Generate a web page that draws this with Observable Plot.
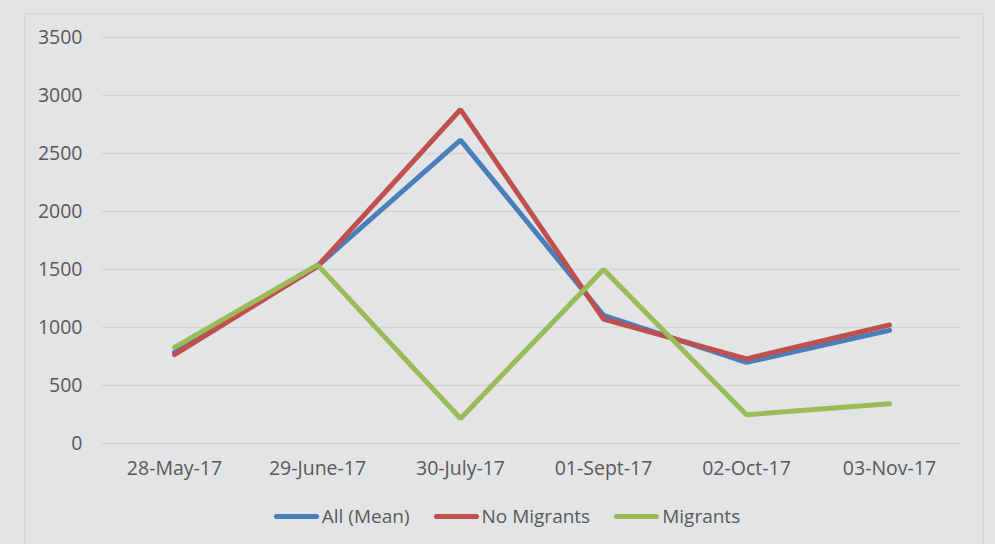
<!DOCTYPE html>
<html>
<head>
<meta charset="utf-8">
<script src="https://cdn.jsdelivr.net/npm/d3@7"></script>
<script src="https://cdn.jsdelivr.net/npm/@observablehq/plot@0.6"></script>
<style>
  html, body { margin: 0; padding: 0; background: #e3e4e6; width: 995px; height: 544px; overflow: hidden; }
  #frame { position: absolute; left: 24px; top: 13px; width: 960px; height: 560px; border: 1.5px solid #d5d6d8; box-sizing: border-box; }
  #chart { position: absolute; left: 0; top: 0; }
  #legend { position: absolute; left: 0; top: 503px; width: 1014px; display: flex; justify-content: center; gap: 24px;
    font-family: "Open Sans", "Liberation Sans", sans-serif; font-size: 19px; color: #595959; }
  .item { display: flex; align-items: center; }
  .sw { width: 45px; height: 5px; border-radius: 3px; margin-right: 3px; }
</style>
</head>
<body>
<div id="frame"></div>
<div id="chart"></div>
<div id="legend"></div>
<script>
const dates = ["28-May-17", "29-June-17", "30-July-17", "01-Sept-17", "02-Oct-17", "03-Nov-17"];
const seriesNames = ["All (Mean)", "No Migrants", "Migrants"];
const seriesColors = ["#4a7ebb", "#c0504d", "#9bbb59"];
const allMean = [785, 1530, 2615, 1105, 700, 975];
const noMigrants = [767, 1528, 2879, 1072, 730, 1022];
const migrants = [828, 1540, 216, 1500, 248, 342];
const yTicks = [0, 500, 1000, 1500, 2000, 2500, 3000, 3500];

const seriesValues = [allMean, noMigrants, migrants];
const data = [];
seriesNames.forEach((s, i) => dates.forEach((d, j) => data.push({series: s, date: d, value: seriesValues[i][j]})));

const chart = Plot.plot({
  width: 995,
  height: 490,
  marginLeft: 102,
  marginRight: 35,
  marginTop: 37,
  marginBottom: 47,
  style: { background: "transparent", fontFamily: "'Open Sans', 'Liberation Sans', sans-serif", fontSize: "19.5px", color: "#595959" },
  x: { type: "point", domain: dates, padding: 0.5, label: null, tickSize: 0, tickPadding: 18 },
  y: { domain: [0, 3500], ticks: yTicks, tickFormat: d => String(d), label: null, tickSize: 0, tickPadding: 20 },
  color: { domain: seriesNames, range: seriesColors },
  marks: [
    Plot.gridY(yTicks, { stroke: "#d3d4d6", strokeOpacity: 1, strokeWidth: 1.5 }),
    Plot.line(data, { x: "date", y: "value", z: "series", stroke: "series", strokeWidth: 5, strokeLinejoin: "miter", strokeLinecap: "round" })
  ]
});
document.getElementById("chart").appendChild(chart);

const legend = document.getElementById("legend");
seriesNames.forEach((s, i) => {
  const it = document.createElement("div");
  it.className = "item";
  const sw = document.createElement("span");
  sw.className = "sw";
  sw.style.background = seriesColors[i];
  const t = document.createElement("span");
  t.textContent = s;
  it.appendChild(sw); it.appendChild(t);
  legend.appendChild(it);
});
</script>
</body>
</html>
